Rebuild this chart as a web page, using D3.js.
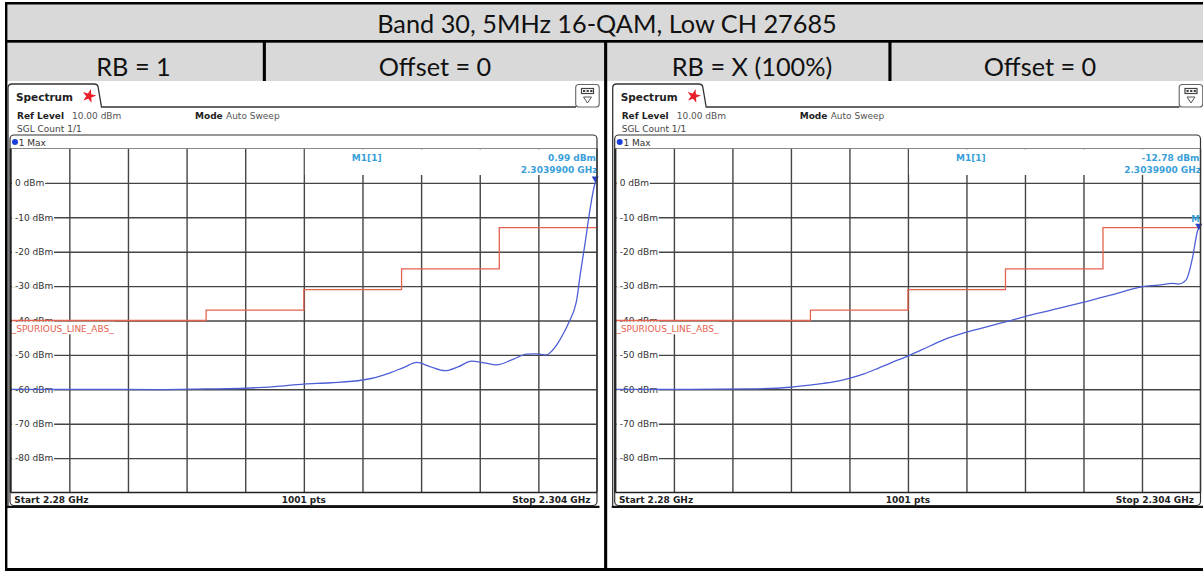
<!DOCTYPE html>
<html><head><meta charset="utf-8">
<script src="https://cdn.jsdelivr.net/npm/d3@7"></script>
<style>html,body{margin:0;padding:0;background:#fff;}svg{display:block}</style>
</head><body><svg id="c" width="1203" height="571"></svg>
<script>
// ---------------- data ----------------
const title = "Band 30, 5MHz 16-QAM, Low CH 27685";
const headerCells = ["RB = 1", "Offset = 0", "RB = X (100%)", "Offset = 0"];
const freqStart = 2.28, freqStop = 2.304;        // GHz
const refLevel = 10, bottomLevel = -90;           // dBm
const yTicks = [0, -10, -20, -30, -40, -50, -60, -70, -80];
const xGridFreq = [2.2824, 2.2848, 2.2872, 2.2896, 2.292, 2.2944, 2.2968, 2.2992, 2.3016];
const limitFreq = [2.280, 2.288, 2.292, 2.296, 2.300, 2.304];
const limitLevel = [-40, -37, -31, -25, -13, -13];
const limitName = "_SPURIOUS_LINE_ABS_";

const leftFreq = [2.2800,2.2830,2.2860,2.2880,2.2896,2.2908,2.2920,2.2931,2.2944,2.29495,2.29553,2.2961,2.29662,2.29716,2.29778,2.29831,2.29887,2.29937,2.29989,2.30056,2.30112,2.3015,2.30194,2.30216,2.30235,2.30261,2.30289,2.30306,2.30317,2.3033,2.30351,2.30371,2.30392,2.30399];
const leftLevel = [-60.0,-60.0,-60.1,-59.9,-59.7,-59.2,-58.5,-58.1,-57.3,-56.5,-55.2,-53.6,-52.2,-53.4,-54.6,-53.5,-51.8,-52.3,-52.9,-51.3,-49.8,-49.7,-50.0,-48.8,-47.1,-44.0,-39.9,-37.0,-34.0,-27.3,-17.6,-7.9,-0.1,0.99];

const rightFreq = [2.2800,2.2830,2.2855,2.28716,2.2883,2.2890,2.28959,2.2902,2.29077,2.2913,2.29187,2.2926,2.29344,2.2944,2.2953,2.29617,2.29679,2.2980,2.29918,2.3004,2.30158,2.3023,2.30285,2.3031,2.30341,2.30355,2.30368,2.30389,2.30399];
const rightLevel = [-60.0,-60.0,-59.9,-59.4,-58.5,-57.8,-56.8,-55.5,-53.9,-52.3,-50.7,-48.4,-45.7,-43.4,-41.7,-40.1,-38.9,-36.8,-34.7,-32.5,-30.2,-29.7,-29.2,-29.4,-28.2,-25.5,-21.5,-13.7,-12.78];

const panels = [
  {plotL: 10.7, plotR: 597, freq: leftFreq, level: leftLevel, mLevel: "0.99 dBm", mFreq: "2.3039900 GHz", showMLabel: false},
  {plotL: 615.4, plotR: 1200.5, freq: rightFreq, level: rightLevel, mLevel: "-12.78 dBm", mFreq: "2.3039900 GHz", showMLabel: true}
];

// ---------------- drawing ----------------
const svg = d3.select("#c");
const hdrFont = "Lato, 'Open Sans', sans-serif";
const instFont = "'DejaVu Sans', Verdana, sans-serif";

// table backgrounds
svg.append("rect").attr("x", 7).attr("y", 4).attr("width", 1196).attr("height", 37).attr("fill", "#d9d9d9");
svg.append("rect").attr("x", 7).attr("y", 42.5).attr("width", 1196).attr("height", 38.5).attr("fill", "#d9d9d9");
// table borders
const blk = "#000";
svg.append("rect").attr("x", 5).attr("y", 2).attr("width", 1198).attr("height", 2.5).attr("fill", blk);
svg.append("rect").attr("x", 5).attr("y", 40).attr("width", 1198).attr("height", 2.7).attr("fill", blk);
svg.append("rect").attr("x", 5).attr("y", 2).attr("width", 2.4).attr("height", 569).attr("fill", blk);
svg.append("rect").attr("x", 5).attr("y", 568).attr("width", 1198).attr("height", 3).attr("fill", blk);
svg.append("rect").attr("x", 262.8).attr("y", 40).attr("width", 3.1).attr("height", 41).attr("fill", blk);
svg.append("rect").attr("x", 604.1).attr("y", 40).attr("width", 3.1).attr("height", 531).attr("fill", blk);
svg.append("rect").attr("x", 888.4).attr("y", 40).attr("width", 3.1).attr("height", 41).attr("fill", blk);

// header text
const t0 = svg.append("text").attr("x", 607).attr("y", 33).attr("text-anchor", "middle")
  .attr("font-family", hdrFont).attr("font-size", 24).attr("fill", "#111").text(title);
const hdrSize = 24 * 460 / t0.node().getComputedTextLength();
t0.attr("font-size", hdrSize);
const cellX = [133.5, 435, 752, 1040];
svg.selectAll("text.cell").data(headerCells).join("text").attr("class", "cell")
  .attr("x", (d, i) => cellX[i]).attr("y", 75.5).attr("text-anchor", "middle")
  .attr("font-family", hdrFont).attr("font-size", hdrSize).attr("fill", "#111").text(d => d);

const yS = d3.scaleLinear().domain([bottomLevel, refLevel]).range([492.5, 148.5]);

panels.forEach((p, pi) => {
  const g = svg.append("g");
  const ox = p.plotL - 2.7;
  const xS = d3.scaleLinear().domain([freqStart, freqStop]).range([p.plotL, p.plotR]);
  const w = p.plotR - p.plotL, top = yS(refLevel), bot = yS(bottomLevel);
  const midX = (p.plotL + p.plotR) / 2;

  // tab + top line
  g.append("path").attr("d", `M${ox},507 V88 Q${ox},84 ${ox+4},84 H${ox+86} Q${ox+89.5},84 ${ox+90},86.5 L${ox+93.5},107 H${p.plotR-21}`)
    .attr("fill", "none").attr("stroke", "#333").attr("stroke-width", 1.3);
  g.append("text").attr("x", ox + 8).attr("y", 101).attr("font-family", instFont).attr("font-weight", "bold")
    .attr("font-size", 10.5).attr("fill", "#222").text("Spectrum");
  // red star
  const star = d3.symbol().type(d3.symbolStar).size(60);
  g.append("path").attr("d", star()).attr("transform", `translate(${ox+81},96) rotate(15)`).attr("fill", "#e8202a");
  // icon box
  g.append("rect").attr("x", p.plotR - 21.3).attr("y", 84.5).attr("width", 23.5).attr("height", 22.5).attr("rx", 3)
    .attr("fill", "#fff").attr("stroke", "#666").attr("stroke-width", 1.1);
  g.append("rect").attr("x", p.plotR - 15.5).attr("y", 88.5).attr("width", 12).attr("height", 5)
    .attr("fill", "#fff").attr("stroke", "#444").attr("stroke-width", 1.2);
  [0, 1, 2].forEach(k => g.append("rect").attr("x", p.plotR - 14 + k * 3.6).attr("y", 90).attr("width", 2.2).attr("height", 2).attr("fill", "#444"));
  g.append("path").attr("d", `M${p.plotR-13.5},97 H${p.plotR-5.5} L${p.plotR-9.5},103 Z`)
    .attr("fill", "none").attr("stroke", "#555").attr("stroke-width", 1);

  // info lines
  const info = g.append("g").attr("font-family", instFont).attr("font-size", 9);
  info.append("text").attr("x", ox + 9).attr("y", 119).attr("font-weight", "bold").attr("fill", "#222").text("Ref Level");
  info.append("text").attr("x", ox + 64).attr("y", 119).attr("fill", "#555").text("10.00 dBm");
  info.append("text").attr("x", ox + 187).attr("y", 119).attr("font-weight", "bold").attr("fill", "#222").text("Mode");
  info.append("text").attr("x", ox + 218).attr("y", 119).attr("fill", "#555").text("Auto Sweep");
  info.append("text").attr("x", ox + 9).attr("y", 131.5).attr("fill", "#444").text("SGL Count 1/1");

  // trace box
  g.append("rect").attr("x", p.plotL - 0.7).attr("y", 135).attr("width", w + 0.7).attr("height", 370.5).attr("rx", 4)
    .attr("fill", "#fff").attr("stroke", "#333").attr("stroke-width", 1.2);
  g.append("circle").attr("cx", p.plotL + 4.3).attr("cy", 142).attr("r", 3).attr("fill", "#1a3fd6");
  g.append("text").attr("x", p.plotL + 8).attr("y", 145.5).attr("font-family", instFont).attr("font-size", 9)
    .attr("fill", "#333").text("1 Max");

  // grid via axes
  const gridCol = "#454545";
  const yAx = g.append("g").attr("transform", `translate(${p.plotL},0)`)
    .call(d3.axisLeft(yS).tickValues(yTicks).tickSize(-w).tickFormat(""));
  const xAx = g.append("g").attr("transform", `translate(0,${bot})`)
    .call(d3.axisBottom(xS).tickValues(xGridFreq).tickSize(-(bot - top)).tickFormat(""));
  [yAx, xAx].forEach(a => {
    a.select(".domain").remove();
    a.selectAll("line").attr("stroke", gridCol).attr("stroke-width", 1.4);
  });

  // marker info box (white, covers grid top right)
  g.append("rect").attr("x", midX + 1).attr("y", top + 0.8).attr("width", p.plotR - midX - 2).attr("height", 175 - top - 0.8).attr("fill", "#fff");
  const mk = g.append("g").attr("font-family", instFont).attr("font-size", 9).attr("font-weight", "bold").attr("fill", "#3a9fd9");
  mk.append("text").attr("x", midX + 48).attr("y", 160.5).text("M1[1]");
  mk.append("text").attr("x", p.plotR - 1).attr("y", 160.5).attr("text-anchor", "end").text(p.mLevel);
  mk.append("text").attr("x", p.plotR + 0.5).attr("y", 172.5).attr("text-anchor", "end").text(p.mFreq);

  // y tick labels with white backgrounds
  const lab = g.append("g").attr("font-family", instFont).attr("font-size", 9).attr("fill", "#333");
  yTicks.forEach(v => {
    const tx = lab.append("text").attr("x", p.plotL + 4.3).attr("y", yS(v) + 3.3).text(v + " dBm");
    const tw = tx.node().getComputedTextLength();
    lab.insert("rect", "text").attr("x", p.plotL + 1.2).attr("y", yS(v) - 1.5).attr("width", tw + 4).attr("height", 3).attr("fill", "#fff");
  });

  // clip for plot
  const cid = "clip" + pi;
  g.append("clipPath").attr("id", cid).append("rect").attr("x", p.plotL).attr("y", top).attr("width", w).attr("height", bot - top);

  // limit line
  const limPts = limitFreq.map((f, i) => [f, limitLevel[i]]);
  g.append("path").datum(limPts).attr("clip-path", `url(#${cid})`)
    .attr("d", d3.line().x(d => xS(d[0])).y(d => yS(d[1])).curve(d3.curveStepAfter))
    .attr("fill", "none").attr("stroke", "#e5624f").attr("stroke-width", 1.3);
  // limit label
  const lt = g.append("text").attr("x", p.plotL + 1).attr("y", 331.5).attr("font-family", instFont).attr("font-size", 9)
    .attr("fill", "#e5624f").text(limitName);
  const ltw = lt.node().getComputedTextLength();
  g.insert("rect", () => lt.node()).attr("x", p.plotL + 1).attr("y", yS(-40) + 1.3).attr("width", ltw + 1).attr("height", 12.5).attr("fill", "#fff");

  // trace
  const trPts = p.freq.map((f, i) => [f, p.level[i]]);
  g.append("path").datum(trPts).attr("clip-path", `url(#${cid})`)
    .attr("d", d3.line().x(d => xS(d[0])).y(d => yS(d[1])).curve(d3.curveMonotoneX))
    .attr("fill", "none").attr("stroke", "#4d5fd6").attr("stroke-width", 1.3);
  // marker
  const mf = p.freq[p.freq.length - 1], ml = p.level[p.level.length - 1];
  g.append("path").attr("d", d3.symbol().type(d3.symbolTriangle).size(22)())
    .attr("transform", `translate(${xS(mf) - 1.5},${yS(ml) - 1}) rotate(180)`).attr("fill", "#2a40c8");
  if (p.showMLabel) {
    g.append("text").attr("x", xS(mf) - 0.5).attr("y", yS(ml) - 5).attr("text-anchor", "end")
      .attr("font-family", instFont).attr("font-size", 8.5).attr("font-weight", "bold").attr("fill", "#3a9fd9").text("M");
  }

  // borders
  g.append("line").attr("x1", p.plotL).attr("x2", p.plotR).attr("y1", top).attr("y2", top).attr("stroke", "#888").attr("stroke-width", 1.2);
  g.append("line").attr("x1", p.plotL).attr("x2", p.plotR).attr("y1", bot).attr("y2", bot).attr("stroke", "#222").attr("stroke-width", 1.4);
  g.append("line").attr("x1", p.plotL).attr("x2", p.plotL).attr("y1", top).attr("y2", bot).attr("stroke", "#222").attr("stroke-width", 2);
  g.append("line").attr("x1", p.plotR).attr("x2", p.plotR).attr("y1", top).attr("y2", bot).attr("stroke", "#333").attr("stroke-width", 1.4);

  // bottom bar
  const bb = g.append("g").attr("font-family", instFont).attr("font-size", 9).attr("font-weight", "bold").attr("fill", "#222");
  bb.append("text").attr("x", p.plotL + 3.5).attr("y", 502.5).text("Start " + freqStart + " GHz");
  bb.append("text").attr("x", midX).attr("y", 502.5).attr("text-anchor", "middle").text("1001 pts");
  bb.append("text").attr("x", p.plotR - 6.5).attr("y", 502.5).attr("text-anchor", "end").text("Stop " + freqStop + " GHz");
  g.append("line").attr("x1", ox - 1).attr("x2", p.plotR + 2.5).attr("y1", 506.8).attr("y2", 506.8).attr("stroke", "#111").attr("stroke-width", 2.2);
});
</script></body></html>
